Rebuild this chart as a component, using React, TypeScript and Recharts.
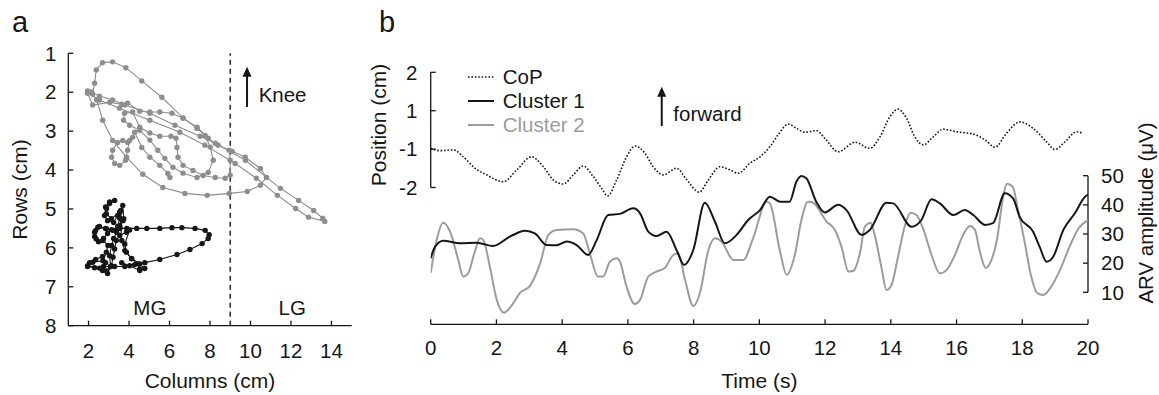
import React from 'react';
import {
  ScatterChart, Scatter, LineChart, Line, XAxis, YAxis,
  ReferenceLine, ReferenceDot, Legend,
} from 'recharts';

type Pt = [number, number];

const FONT = "'Liberation Sans', Arimo, Arial, Helvetica, sans-serif";
const INK = '#161616';
const GRAY_A = '#8e8e8e';
const GRAY_B = '#9c9c9c';

// ---------------- Panel a: trajectories (columns cm, rows cm) ----------------
const COL_TICKS = [2, 4, 6, 8, 10, 12, 14];
const ROW_TICKS = [1, 2, 3, 4, 5, 6, 7, 8];
const BORDER_COL = 9;

const grayOuterLoop: Pt[] = [
  [1.95, 1.97], [2.2, 2.05], [2.3, 1.77], [2.38, 1.43], [2.69, 1.24], [3.19, 1.22],
  [3.84, 1.37], [4.63, 1.71], [5.62, 2.13], [6.67, 2.66], [7.36, 2.93], [7.91, 3.18],
  [8.4, 3.36], [9.1, 3.52], [9.74, 3.67], [10.49, 3.96], [10.79, 4.19], [10.49, 4.39],
  [9.84, 4.55], [8.95, 4.6], [7.86, 4.65], [6.76, 4.6], [5.67, 4.45], [4.68, 4.11],
  [3.88, 3.67], [3.19, 3.24], [2.7, 2.72], [2.4, 2.2], [2.15, 2.0],
];
const grayExcursion: Pt[] = [
  [2.15, 2.0], [2.54, 2.1], [3.19, 2.2], [3.78, 2.33], [5.03, 2.54], [6.27, 2.85],
  [7.51, 3.13], [8.26, 3.31], [9.75, 3.75], [11.48, 4.47], [12.38, 4.78], [13.12, 5.04],
  [13.57, 5.24], [13.67, 5.32], [12.87, 5.21], [12.23, 4.99], [11.33, 4.65], [10.29, 4.21],
  [9.24, 3.83], [7.75, 3.36], [6.51, 3.03], [5.03, 2.72], [3.53, 2.41], [2.54, 2.2], [1.95, 2.02],
];
const grayInnerLoop: Pt[] = [
  [1.95, 2.02], [2.2, 2.33], [3.04, 2.26], [3.64, 2.31], [3.93, 2.28], [4.53, 2.49],
  [5.03, 2.51], [5.52, 2.51], [6.12, 2.54], [6.67, 2.67], [7.36, 2.9], [7.76, 3.11],
  [8.01, 3.41], [8.16, 3.75], [7.91, 4.06], [7.36, 4.19], [6.67, 4.08], [6.17, 3.93],
  [5.77, 3.7], [5.42, 3.49], [5.03, 3.23], [4.53, 2.98], [4.03, 2.85], [3.73, 2.72],
  [3.78, 2.54], [4.18, 2.51], [4.53, 2.9], [5.03, 3.05], [5.52, 3.13], [6.07, 3.13],
  [6.32, 3.18], [6.37, 3.42], [6.42, 3.67], [6.67, 3.88], [7.16, 4.01], [7.66, 4.14],
  [8.26, 4.19], [8.75, 4.21], [9.0, 4.13], [9.0, 3.75], [8.95, 3.49],
];
const grayLeftLoop: Pt[] = [
  [4.18, 3.16], [3.93, 3.29], [3.69, 3.24], [3.44, 3.29], [3.19, 3.49], [3.14, 3.67],
  [3.29, 3.83], [3.54, 3.88], [3.83, 3.75], [3.93, 3.49], [4.03, 3.24], [4.28, 3.03],
  [4.63, 3.42], [5.03, 3.67], [5.52, 3.88], [5.92, 4.09], [6.02, 4.19],
];

const blackUpper: Pt[] = [
  [3.29, 4.78], [3.04, 4.86], [2.89, 4.99], [2.79, 5.17], [2.94, 5.3], [3.24, 5.35],
  [3.44, 5.17], [3.59, 5.04], [3.54, 5.24], [3.44, 5.45], [3.19, 5.55], [2.84, 5.5],
  [2.54, 5.45], [2.35, 5.55], [2.3, 5.71], [2.49, 5.84], [2.74, 5.76], [2.94, 5.63],
  [3.14, 5.53], [3.54, 5.5],
];
const blackCore: Pt[] = [
  [3.04, 4.82], [2.84, 4.95], [2.88, 5.12], [3.13, 5.25], [3.54, 5.08], [3.7, 5.3],
  [3.54, 5.47], [3.29, 5.55], [2.88, 5.51], [2.46, 5.47], [2.3, 5.6], [2.38, 5.77],
  [2.71, 5.81], [2.96, 5.94], [2.88, 6.11], [2.71, 6.33], [2.21, 6.37], [1.96, 6.46],
  [2.54, 6.52], [2.88, 6.59], [3.13, 6.46], [3.21, 6.24], [3.29, 6.03], [3.37, 5.81],
  [3.54, 5.68], [3.87, 5.6], [4.03, 5.54], [3.79, 5.9], [3.87, 6.11], [4.12, 6.28],
  [4.45, 6.41], [4.53, 6.54],
];
const blackLoop: Pt[] = [
  [3.54, 5.5], [3.89, 5.5], [4.38, 5.5], [4.88, 5.5], [5.52, 5.5], [6.12, 5.48],
  [6.61, 5.48], [7.26, 5.5], [7.76, 5.55], [7.96, 5.66], [7.91, 5.76], [7.61, 5.89],
  [7.01, 6.04], [6.37, 6.17], [5.52, 6.3], [4.78, 6.38], [4.28, 6.43], [3.79, 6.48],
  [3.29, 6.48], [2.74, 6.48], [2.3, 6.51], [1.95, 6.48], [2.05, 6.38], [2.35, 6.3],
  [2.69, 6.22], [2.84, 6.38], [2.69, 6.58], [2.94, 6.66], [3.09, 6.48],
];
const blackReturn: Pt[] = [
  [3.09, 6.48], [3.04, 6.2], [3.14, 5.94], [3.24, 5.76], [3.39, 5.6], [3.54, 5.43],
  [3.74, 5.25], [3.69, 4.91], [3.54, 5.09], [3.64, 5.81], [3.79, 6.07], [4.13, 6.27],
  [4.53, 6.41], [4.78, 6.53], [4.53, 6.58], [4.03, 6.46], [3.64, 6.38],
];

// ---------------- Panel b: time series ----------------
const TIME_TICKS = [0, 2, 4, 6, 8, 10, 12, 14, 16, 18, 20];
const POS_TICKS = [2, 1, 0, -1];
const POS_TICK_LABELS: Record<string, string> = { '2': '2', '1': '1', '0': '-1', '-1': '-2' };
const ARV_TICKS = [10, 20, 30, 40, 50];

const copTrace: Pt[] = [
  [0, 0.02], [0.28, -0.04], [0.69, -0.02], [0.99, -0.2], [1.35, -0.5], [1.7, -0.67],
  [2.21, -0.85], [2.62, -0.54], [3.07, -0.2], [3.43, -0.46], [3.73, -0.8], [4.03, -0.91],
  [4.34, -0.67], [4.64, -0.44], [4.95, -0.72], [5.2, -1.02], [5.38, -1.22], [5.66, -0.8],
  [5.96, -0.2], [6.22, 0.08], [6.52, -0.11], [6.77, -0.46], [7.08, -0.67], [7.48, -0.5],
  [7.79, -0.8], [8.17, -1.12], [8.45, -0.8], [8.8, -0.46], [9.1, -0.54], [9.36, -0.63],
  [9.71, -0.37], [10.02, -0.2], [10.32, 0.06], [10.57, 0.37], [10.88, 0.65], [11.13, 0.54],
  [11.39, 0.44], [11.74, 0.48], [11.99, 0.28], [12.4, -0.07], [12.91, 0.18], [13.36, 0.02],
  [13.67, 0.32], [13.97, 0.84], [14.22, 1.04], [14.48, 0.8], [14.73, 0.32], [14.99, 0.11],
  [15.29, 0.32], [15.6, 0.52], [16.0, 0.45], [16.51, 0.39], [16.87, 0.24], [17.17, 0.05],
  [17.52, 0.41], [17.93, 0.71], [18.33, 0.54], [18.74, 0.19], [18.99, -0.01], [19.3, 0.19],
  [19.65, 0.45], [19.85, 0.41],
];
const cluster1Trace: Pt[] = [
  [0, 21.7], [0.13, 25.6], [0.38, 27.7], [0.89, 26.8], [1.4, 27.0], [1.9, 25.9],
  [2.41, 29.1], [2.87, 31.1], [3.17, 30.2], [3.53, 26.2], [3.83, 26.1], [4.14, 27.4],
  [4.44, 26.2], [4.79, 22.8], [5.05, 27.9], [5.4, 36.5], [5.76, 36.9], [6.16, 38.8],
  [6.37, 37.1], [6.62, 30.8], [6.87, 29.3], [7.18, 30.8], [7.48, 24.5], [7.71, 19.4],
  [7.99, 24.5], [8.34, 40.7], [8.65, 34.2], [8.95, 26.8], [9.31, 29.7], [9.66, 34.8],
  [10.02, 38.2], [10.32, 42.8], [10.63, 41.1], [10.92, 41.1], [11.13, 48.0], [11.28, 49.9],
  [11.43, 49.1], [11.73, 41.1], [11.99, 37.4], [12.4, 40.0], [12.65, 38.2], [13.11, 29.7],
  [13.36, 31.4], [13.87, 40.7], [14.07, 40.5], [14.63, 32.5], [14.93, 34.8], [15.24, 41.9],
  [15.49, 40.5], [15.9, 36.5], [16.25, 38.2], [16.51, 36.5], [16.87, 33.1], [17.11, 33.7],
  [17.47, 44.0], [17.72, 42.2], [17.92, 35.9], [18.33, 30.8], [18.53, 25.6], [18.74, 20.5],
  [18.94, 22.2], [19.25, 31.4], [19.6, 37.1], [19.91, 42.8], [20, 43.5],
];
const cluster2Trace: Pt[] = [
  [0, 16.7], [0.18, 27.9], [0.38, 33.9], [0.59, 30.8], [0.84, 21.1], [0.99, 15.4],
  [1.14, 16.5], [1.34, 23.9], [1.5, 28.5], [1.6, 27.9], [1.8, 18.8], [2.01, 7.4],
  [2.23, 3.0], [2.51, 6.2], [2.71, 9.7], [3.02, 12.2], [3.33, 19.9], [3.58, 29.7],
  [3.83, 31.4], [4.34, 31.6], [4.64, 30.2], [4.84, 23.4], [5.09, 15.4], [5.25, 15.4],
  [5.45, 20.5], [5.66, 21.7], [5.76, 20.5], [5.96, 11.9], [6.21, 6.0], [6.37, 7.4],
  [6.62, 15.4], [6.87, 17.1], [7.12, 18.3], [7.38, 22.8], [7.53, 23.4], [7.74, 14.2],
  [7.99, 5.3], [8.19, 9.7], [8.45, 24.5], [8.65, 28.5], [8.85, 27.4], [9.21, 21.1],
  [9.51, 21.1], [9.81, 28.5], [10.22, 41.1], [10.32, 40.5], [10.63, 24.0], [10.83, 16.0],
  [11.09, 23.4], [11.28, 34.8], [11.48, 41.1], [11.63, 40.8], [12.05, 34.2], [12.3, 31.4],
  [12.5, 25.6], [12.71, 17.1], [12.86, 17.4], [13.06, 23.4], [13.21, 32.5], [13.38, 33.9],
  [13.51, 29.7], [13.71, 18.8], [13.87, 10.8], [14.02, 12.5], [14.22, 22.2], [14.42, 32.5],
  [14.6, 37.3], [14.78, 36.5], [14.98, 31.9], [15.24, 22.8], [15.49, 16.5], [15.7, 17.7],
  [15.95, 22.8], [16.2, 29.7], [16.41, 32.7], [16.56, 31.4], [16.71, 23.9], [16.89, 18.3],
  [17.04, 20.5], [17.23, 28.0], [17.41, 42.2], [17.53, 47.2], [17.71, 46.2], [17.85, 39.4],
  [18.08, 26.8], [18.26, 16.0], [18.46, 9.7], [18.64, 9.1], [18.85, 11.4], [19.15, 17.7],
  [19.46, 26.2], [19.71, 31.9], [20, 34.8],
];

// annotation anchors (data units)
const KNEE_ARROW: Pt[] = [[9.83, 2.38], [9.83, 1.345]];
const FORWARD_ARROW: Pt[] = [[7.03, 0.6], [7.03, 1.625]];
const MG_POS: Pt = [5.03, 7.72];
const LG_POS: Pt = [12.06, 7.72];

const LEGEND_ITEMS = [
  { name: 'CoP', color: INK, text: INK, dash: '1.6 1.8', width: 1.6 },
  { name: 'Cluster 1', color: INK, text: INK, dash: undefined, width: 2 },
  { name: 'Cluster 2', color: GRAY_B, text: GRAY_B, dash: undefined, width: 2 },
];

const toXY = (a: Pt[]) => a.map(([x, y]) => ({ x, y }));
const toTV = (a: Pt[]) => a.map(([t, v]) => ({ t, v }));

const tickStyle = { fill: INK, fontSize: 20.5, fontFamily: FONT };
const axisStroke = { stroke: INK, strokeWidth: 1.3 };

const dotShape = (fill: string, r: number) => (p: any) =>
  <circle cx={p.cx} cy={p.cy} r={r} fill={fill} stroke="none" />;

const arrowShape = (label: string) => (p: any) => {
  const { x1, y1, x2, y2 } = p;
  return (
    <g>
      <line x1={x1} y1={y1} x2={x2} y2={y2 + 8} stroke={INK} strokeWidth={2} />
      <polygon points={`${x2},${y2} ${x2 - 4.5},${y2 + 10} ${x2 + 4.5},${y2 + 10}`} fill={INK} />
      <text x={x2 + 11.6} y={y1 - 5} fontSize={20.5} fontFamily={FONT} fill={INK}>{label}</text>
    </g>
  );
};

const textShape = (label: string) => (p: any) => (
  <text x={p.cx} y={p.cy} textAnchor="middle" fontSize={20.5} fontFamily={FONT} fill={INK}>{label}</text>
);

const vLabel = (text: string, x: number, y: number, size = 21) => () => (
  <text x={x} y={y} transform={`rotate(-90 ${x} ${y})`} textAnchor="middle"
    fontSize={size} fontFamily={FONT} fill={INK}>{text}</text>
);

function PanelA() {
  const series = [
    { key: 'go', data: grayOuterLoop, c: GRAY_A },
    { key: 'ge', data: grayExcursion, c: GRAY_A },
    { key: 'gi', data: grayInnerLoop, c: GRAY_A },
    { key: 'gl', data: grayLeftLoop, c: GRAY_A },
    { key: 'bu', data: blackUpper, c: INK },
    { key: 'bc', data: blackCore, c: INK },
    { key: 'bl', data: blackLoop, c: INK },
    { key: 'br', data: blackReturn, c: INK },
  ];
  return (
    <ScatterChart width={360} height={395}
      margin={{ top: 53.3, right: 8.3, bottom: 9.3, left: 8.3 }}
      style={{ position: 'absolute', left: 0, top: 0 }}>
      <XAxis xAxisId="b" type="number" dataKey="x" domain={[1, 15]} ticks={COL_TICKS}
        interval={0} tickSize={-5} tickMargin={22.6} height={60} tick={tickStyle}
        axisLine={axisStroke} tickLine={axisStroke} allowDataOverflow
        label={{ value: 'Columns (cm)', position: 'insideBottom', offset: -2.3, fill: INK, fontSize: 21, fontFamily: FONT }} />
      <XAxis xAxisId="t" orientation="top" type="number" domain={[1, 15]} ticks={COL_TICKS}
        interval={0} tickSize={-5} height={0} tick={false} axisLine={axisStroke} tickLine={axisStroke} allowDataOverflow />
      <YAxis yAxisId="l" type="number" dataKey="y" domain={[1, 8]} reversed ticks={ROW_TICKS}
        interval={0} tickSize={-5} tickMargin={17} width={60} tick={tickStyle}
        axisLine={axisStroke} tickLine={axisStroke} allowDataOverflow
        label={vLabel('Rows (cm)', 27, 189.5)} />
      <YAxis yAxisId="r" orientation="right" type="number" domain={[1, 8]} reversed ticks={ROW_TICKS}
        interval={0} tickSize={-5} width={0} tick={false} axisLine={axisStroke} tickLine={axisStroke} allowDataOverflow />
      <ReferenceLine xAxisId="b" yAxisId="l" x={BORDER_COL} stroke="#333" strokeWidth={1.6} strokeDasharray="5 4" />
      {series.map((s) => (
        <Scatter key={s.key} xAxisId="b" yAxisId="l" data={toXY(s.data)}
          line={{ stroke: s.c, strokeWidth: 1.1 }} lineType="joint"
          shape={dotShape(s.c, 2.7)} isAnimationActive={false} />
      ))}
      <ReferenceLine xAxisId="b" yAxisId="l"
        segment={[{ x: KNEE_ARROW[0][0], y: KNEE_ARROW[0][1] }, { x: KNEE_ARROW[1][0], y: KNEE_ARROW[1][1] }]}
        shape={arrowShape('Knee')} />
      <ReferenceDot xAxisId="b" yAxisId="l" x={MG_POS[0]} y={MG_POS[1]} r={0} shape={textShape('MG')} />
      <ReferenceDot xAxisId="b" yAxisId="l" x={LG_POS[0]} y={LG_POS[1]} r={0} shape={textShape('LG')} />
    </ScatterChart>
  );
}

function LegendBox() {
  return (
    <div style={{ fontFamily: FONT, fontSize: 20.5 }}>
      {LEGEND_ITEMS.map((e) => (
        <div key={e.name} style={{ display: 'flex', alignItems: 'center', height: 24 }}>
          <svg width={26} height={24} style={{ display: 'block' }}>
            <line x1={0} y1={12} x2={26} y2={12} stroke={e.color} strokeWidth={e.width} strokeDasharray={e.dash} />
          </svg>
          <span style={{ marginLeft: 9, color: e.text, lineHeight: '24px', whiteSpace: 'nowrap' }}>{e.name}</span>
        </div>
      ))}
    </div>
  );
}

function PanelB() {
  return (
    <LineChart width={799} height={395}
      margin={{ top: 72.3, right: 11, bottom: 10.7, left: 10.7 }}
      style={{ position: 'absolute', left: 360, top: 0 }}>
      <XAxis type="number" dataKey="t" domain={[0, 20]} ticks={TIME_TICKS} interval={0}
        tickSize={-5} tickMargin={20.7} height={60} tick={tickStyle}
        axisLine={axisStroke} tickLine={axisStroke} allowDataOverflow
        label={{ value: 'Time (s)', position: 'insideBottom', offset: -3.7, fill: INK, fontSize: 21, fontFamily: FONT }} />
      <YAxis yAxisId="pos" type="number" domain={[-4.5625, 2]} ticks={POS_TICKS} interval={0}
        tickFormatter={(v: number) => POS_TICK_LABELS[String(v)] ?? String(v)}
        tickSize={-5} tickMargin={18.4} width={60} tick={tickStyle}
        axisLine={false} tickLine={axisStroke} allowDataOverflow
        label={vLabel('Position (cm)', 26, 125)} />
      <YAxis yAxisId="arv" orientation="right" type="number" domain={[-0.98, 85.47]} ticks={ARV_TICKS}
        interval={0} tickSize={-5} tickMargin={18} width={60} tick={tickStyle}
        axisLine={false} tickLine={axisStroke} allowDataOverflow
        label={vLabel('ARV amplitude (\u03bcV)', 792.5, 213, 20.5)} />
      <ReferenceLine yAxisId="pos" segment={[{ x: 0, y: -1 }, { x: 0, y: 2 }]} {...axisStroke} />
      <ReferenceLine yAxisId="arv" segment={[{ x: 20, y: 10 }, { x: 20, y: 50 }]} {...axisStroke} />
      <Line yAxisId="pos" data={toTV(copTrace)} dataKey="v" name="CoP" type="monotone"
        stroke={INK} strokeWidth={1.6} strokeDasharray="1.6 1.8" dot={false} isAnimationActive={false} />
      <Line yAxisId="arv" data={toTV(cluster2Trace)} dataKey="v" name="Cluster 2" type="monotone"
        stroke={GRAY_B} strokeWidth={2} dot={false} isAnimationActive={false} />
      <Line yAxisId="arv" data={toTV(cluster1Trace)} dataKey="v" name="Cluster 1" type="monotone"
        stroke={INK} strokeWidth={2} dot={false} isAnimationActive={false} />
      <ReferenceLine yAxisId="pos"
        segment={[{ x: FORWARD_ARROW[0][0], y: FORWARD_ARROW[0][1] }, { x: FORWARD_ARROW[1][0], y: FORWARD_ARROW[1][1] }]}
        shape={arrowShape('forward')} />
      <Legend layout="horizontal" verticalAlign="middle" align="center"
        wrapperStyle={{ left: 107.7, top: 64.7, width: 220, height: 75 }}
        content={() => <LegendBox />} />
    </LineChart>
  );
}

export default function App() {
  return (
    <div style={{ position: 'absolute', left: 0, top: 0, width: 1159, height: 395, background: '#fff', overflow: 'hidden' }}>
      <PanelA />
      <PanelB />
      <svg width={1159} height={395} style={{ position: 'absolute', left: 0, top: 0, pointerEvents: 'none' }}>
        <text x={12} y={31.7} fontSize={29} fontFamily={FONT} fill={INK}>a</text>
        <text x={379} y={31.7} fontSize={29} fontFamily={FONT} fill={INK}>b</text>
      </svg>
    </div>
  );
}
